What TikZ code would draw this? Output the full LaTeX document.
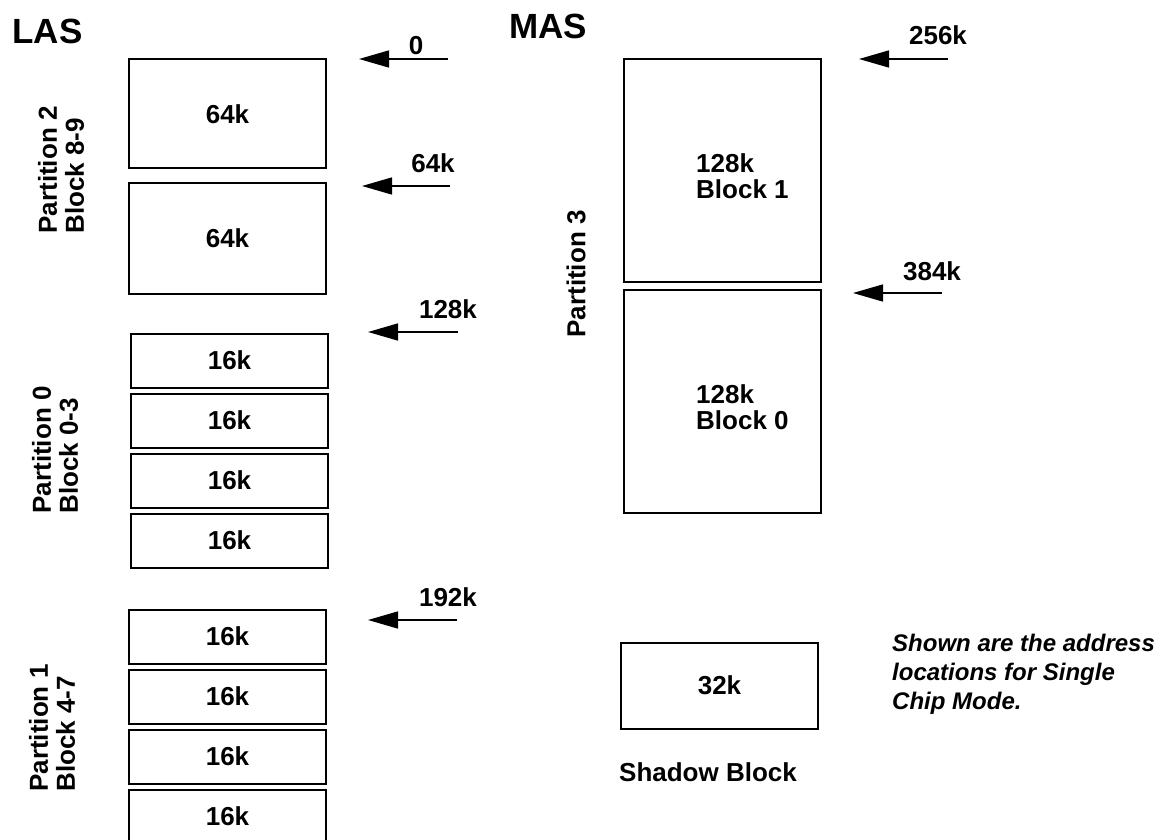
\documentclass[tikz,border=0pt]{standalone}
\usepackage{fontspec}
\setmainfont{Liberation Sans}
\usetikzlibrary{arrows.meta,positioning}

\begin{document}
\begin{tikzpicture}[x=1pt,y=-1pt]
    \tikzset{
      blk/.style={draw,line width=2pt,minimum width=197pt,inner sep=0pt,font=\fontsize{26}{26}\selectfont\bfseries},
      part/.style={rotate=90,align=left,inner sep=0pt,font=\fontsize{26}{27}\selectfont\bfseries},
      addr/.style={inner sep=0pt,font=\fontsize{26}{26}\selectfont\bfseries},
      ptr/.style={-{Triangle[length=30pt,width=17pt]},line width=1.5pt}
    }
    \useasboundingbox (0,0) rectangle (1157,840);
    % space titles
    \node[addr,font=\fontsize{35}{35}\selectfont\bfseries] (las) at (47.5,31) {LAS};
    \node[addr,font=\fontsize{35}{35}\selectfont\bfseries] (mas) at (548,26) {MAS};
    % LAS, partition 2
    \node[blk,minimum height=109pt] (b8) at (227.5,114) {64k};
    \node[blk,minimum height=110pt] (b9) at (227.5,238.5) {64k};
    \node[part] (p2) at (61,170) {Partition 2\\Block 8-9};
    % LAS, partition 0
    \node[blk,minimum height=54pt] (b0) at (229.5,360.5) {16k};
    \node[blk,minimum height=54pt] (b1) at (229.5,420.5) {16k};
    \node[blk,minimum height=54pt] (b2) at (229.5,480.5) {16k};
    \node[blk,minimum height=54pt] (b3) at (229.5,540.5) {16k};
    \node[part] (p0) at (55,450) {Partition 0\\Block 0-3};
    % LAS, partition 1
    \node[blk,minimum height=54pt] (b4) at (227.5,636.5) {16k};
    \node[blk,minimum height=54pt] (b5) at (227.5,696.5) {16k};
    \node[blk,minimum height=54pt] (b6) at (227.5,756.5) {16k};
    \node[blk,minimum height=54pt] (b7) at (227.5,816.5) {16k};
    \node[part] (p1) at (52,728) {Partition 1\\Block 4-7};
    % MAS, partition 3
    \node[blk,minimum height=222pt] (m1) at (722,170.5) {};
    \node[blk,minimum height=223pt] (m0) at (722,401) {};
    \node[addr,align=left,anchor=west] (m1txt) at (696,176) {128k\\Block 1};
    \node[addr,align=left,anchor=west] (m0txt) at (696,407) {128k\\Block 0};
    \node[part] (p3) at (576,274) {Partition 3};
    % shadow block
    \node[blk,minimum height=86pt] (sh) at (719.5,685.5) {32k};
    \node[addr] (shtxt) at (708,772) {Shadow Block};
    \node[addr,align=left,anchor=west,font=\fontsize{24}{29}\selectfont\bfseries\itshape] (note) at (892,674)
      {Shown are the address\\locations for Single\\Chip Mode.};
    % address pointers
    \coordinate (a0) at (448,59);    \coordinate (a0h) at (359,59);
    \coordinate (a64) at (450,186);  \coordinate (a64h) at (362,186);
    \coordinate (a128) at (458,332); \coordinate (a128h) at (368,332);
    \coordinate (a192) at (457,620); \coordinate (a192h) at (368,620);
    \coordinate (a256) at (948,59);  \coordinate (a256h) at (859,59);
    \coordinate (a384) at (942,293); \coordinate (a384h) at (853,293);
    \draw[ptr] (a0) -- (a0h);
    \draw[ptr] (a64) -- (a64h);
    \draw[ptr] (a128) -- (a128h);
    \draw[ptr] (a192) -- (a192h);
    \draw[ptr] (a256) -- (a256h);
    \draw[ptr] (a384) -- (a384h);
    \node[addr] (l0) at (416,46) {0};
    \node[addr] (l64) at (433,163) {64k};
    \node[addr] (l128) at (448,309) {128k};
    \node[addr] (l192) at (448,597) {192k};
    \node[addr] (l256) at (938,35) {256k};
    \node[addr] (l384) at (932,271) {384k};
  \end{tikzpicture}
\end{document}
